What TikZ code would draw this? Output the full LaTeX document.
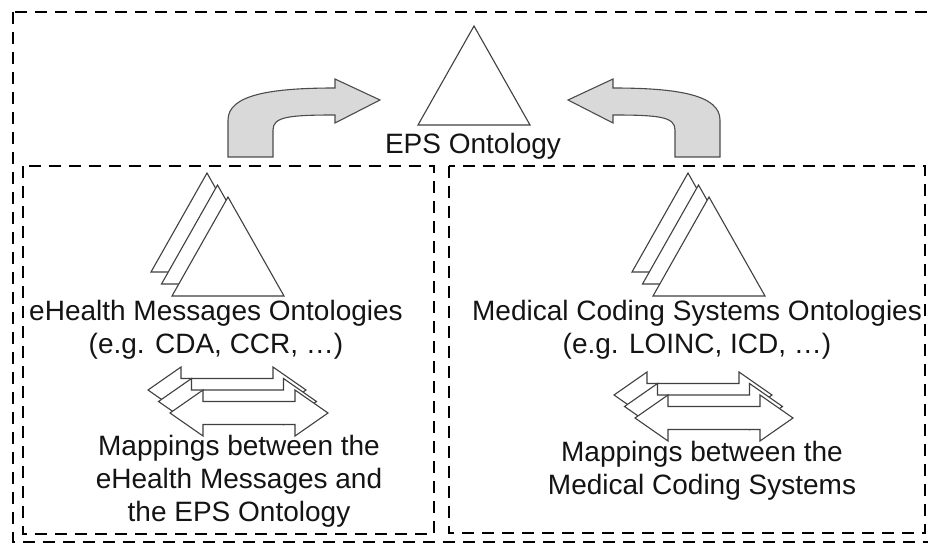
\documentclass[tikz,border=0pt]{standalone}
\usepackage{fontspec}
\setmainfont{Liberation Sans}
\begin{document}
\begin{tikzpicture}[x=1pt,y=-1pt,
  box/.style={dash pattern=on 12pt off 8pt, line width=2.3pt, draw=black},
  tri/.style={draw=black!75, line width=1.1pt, fill=white, line join=miter},
  bendarrow/.style={draw=black!70, line width=1.1pt, fill=black!15, line join=miter},
  dbl/.style={draw=black!75, line width=1.1pt, fill=white, line join=miter},
  lbl/.style={font=\fontsize{28}{33}\selectfont, align=center, inner sep=0pt, text=black!92}]
\useasboundingbox (0,0) rectangle (928,545);
\clip (0,0) rectangle (928,545);
% boxes
\draw[box] (13,12) rectangle (940,542);
\draw[box] (23,166) rectangle (434,534);
\draw[box] (449,166) rectangle (925,533);
% central triangle
\draw[tri] (474,26) -- (530,125) -- (418,125) -- cycle;
% stacked triangles
\foreach \ax/\ay in {207/173, 217.5/185, 228/197, 688/173, 698.5/185, 709/197}{
  \draw[tri] (\ax,\ay) -- ({\ax+56},{\ay+99}) -- ({\ax-56},{\ay+99}) -- cycle;
}
% stacked double arrows
\foreach \tx/\ty in {148/390, 158.5/401.5, 170/413, 614/395, 624.5/406.5, 635/418}{
  \draw[dbl] (\tx,\ty) -- ({\tx+33},{\ty-23}) -- ({\tx+33},{\ty-11.5}) -- ({\tx+125},{\ty-11.5})
    -- ({\tx+125},{\ty-23}) -- ({\tx+158},\ty) -- ({\tx+125},{\ty+23}) -- ({\tx+125},{\ty+11.5})
    -- ({\tx+33},{\ty+11.5}) -- ({\tx+33},{\ty+23}) -- cycle;
}
% curved arrows
\draw[bendarrow] (228,157) -- (228,120) .. controls (228,95) and (270,88) .. (335,88)
  -- (335,79) -- (380,100) -- (335,123) -- (335,115)
  .. controls (288,115) and (273,117) .. (273,130) -- (273,157) -- cycle;
\draw[bendarrow] (720,157) -- (720,120) .. controls (720,95) and (678,88) .. (613,88)
  -- (613,79) -- (568,100) -- (613,123) -- (613,115)
  .. controls (660,115) and (675,117) .. (675,130) -- (675,157) -- cycle;
% labels
\node[lbl] (eps) at (473,146) {EPS Ontology};
\node[lbl] (ehont) at (216,330) {eHealth Messages Ontologies\\(e.g. CDA, CCR, …)};
\node[lbl] (ehmap) at (239,481) {Mappings between the\\eHealth Messages and\\the EPS Ontology};
\node[lbl] (mcont) at (697,330) {Medical Coding Systems Ontologies\\(e.g. LOINC, ICD, …)};
\node[lbl] (mcmap) at (702,471) {Mappings between the\\Medical Coding Systems};
\end{tikzpicture}
\end{document}
